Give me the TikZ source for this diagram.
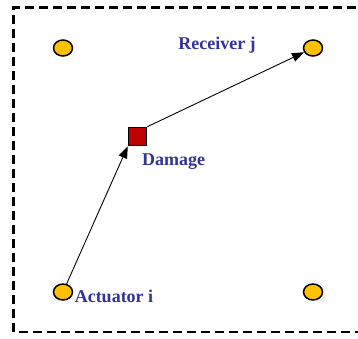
\documentclass[tikz,border=0pt]{standalone}
\usepackage{fontspec}
\setmainfont{Liberation Serif}
\usetikzlibrary{shapes.geometric,arrows.meta}
\definecolor{lbl}{RGB}{51,51,153}
\definecolor{sens}{RGB}{255,192,0}
\definecolor{dmgred}{RGB}{192,0,0}
\tikzset{
  sensor/.style={ellipse,draw=black,line width=1.5pt,fill=sens,minimum width=19pt,minimum height=16pt,inner sep=0pt},
  dmgbox/.style={rectangle,draw=black,line width=1.5pt,fill=dmgred,minimum size=18pt,inner sep=0pt},
  lab/.style={text=lbl,font=\fontsize{18}{21}\selectfont\bfseries,inner sep=0pt},
  path arrow/.style={line width=0.9pt,-{Triangle[length=12pt,width=9pt]}},
  frame/.style={line width=2.6pt,dash pattern=on 9pt off 5pt}
}
\begin{document}
\begin{tikzpicture}[x=1pt,y=-1pt]
\useasboundingbox (0,0) rectangle (358,338);
\draw[frame] (370,7.5) -- (13.5,7.5) -- (13.5,332) -- (370,332);
\node[sensor] (s1) at (63,48) {};
\node[sensor] (rec) at (313,48) {};
\node[sensor] (act) at (63,292) {};
\node[sensor] (s4) at (313,292) {};
\node[dmgbox] (dmg) at (137.5,136.5) {};
\node[lab] (lrec) at (217,45) {Receiver j};
\node[lab] (ldmg) at (173.5,162) {Damage};
\node[lab] (lact) at (114,296) {Actuator i};
\draw[path arrow] (act) -- (dmg.south west);
\draw[path arrow] (dmg.north east) -- (rec);
\end{tikzpicture}
\end{document}
